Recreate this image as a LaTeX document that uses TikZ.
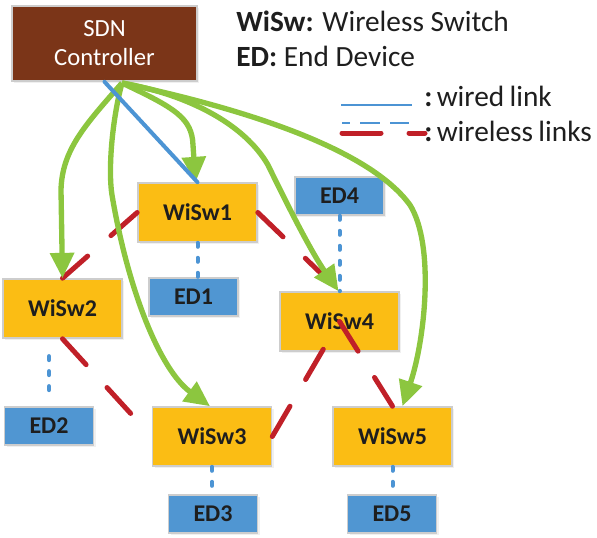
\documentclass[tikz,border=0pt]{standalone}
\usepackage{fontspec}
\setmainfont{Carlito}
\usetikzlibrary{arrows.meta,calc,shadows}
\definecolor{brownc}{RGB}{123,53,24}
\definecolor{swyel}{RGB}{251,189,20}
\definecolor{edblu}{RGB}{80,150,210}
\definecolor{txtdark}{RGB}{30,30,30}
\definecolor{greenc}{RGB}{140,198,63}
\definecolor{redc}{RGB}{192,32,40}
\definecolor{bluec}{RGB}{76,148,212}
\definecolor{bordgray}{RGB}{205,205,205}
\begin{document}
\begin{tikzpicture}[x=0.75pt,y=-0.75pt,
  box/.style={draw=bordgray, line width=1.2pt, inner sep=0pt,
    drop shadow={shadow xshift=1.5pt,shadow yshift=-1.5pt,opacity=0.12}},
  swbox/.style={box, fill=swyel, minimum width=89.25pt, minimum height=44.25pt,
    font=\fontsize{18}{21}\selectfont\bfseries, text=txtdark},
  edbox/.style={box, fill=edblu, minimum width=66.75pt, minimum height=28.5pt,
    font=\fontsize{18}{21}\selectfont\bfseries, text=txtdark},
  ctrlbox/.style={box, fill=brownc, minimum width=138.75pt, minimum height=56.25pt,
    font=\fontsize{18.5}{21.75}\selectfont, text=white, align=center},
  wl/.style={draw=redc, line width=3.75pt, line cap=round, dash pattern=on 26.25pt off 23.25pt},
  dl/.style={draw=bluec, line width=3pt, line cap=round, dash pattern=on 3pt off 8.25pt},
  ctrl/.style={draw=greenc, line width=4pt, -{Triangle[length=19pt,width=17.5pt]}},
  wired/.style={draw=bluec, line width=3pt, line cap=round},
  legtext/.style={anchor=base west, inner sep=0pt, font=\fontsize{22}{26}\selectfont, text=txtdark}
]
\useasboundingbox (0,0) rectangle (597,537);

% nodes
\node[ctrlbox] (SDN) at (104.5,43.5) {SDN\\Controller};
\node[swbox] (WiSw1) at (197.5,212.5) {WiSw1};
\node[swbox] (WiSw2) at (62.5,308.5) {WiSw2};
\node[swbox] (WiSw3) at (212,436.5) {WiSw3};
\node[swbox] (WiSw4) at (339.5,321.5) {WiSw4};
\node[swbox] (WiSw5) at (392.5,436.5) {WiSw5};
\node[edbox] (ED1) at (193.5,297) {ED1};
\node[edbox] (ED2) at (49,426) {ED2};
\node[edbox] (ED3) at (213,514) {ED3};
\node[edbox] (ED4) at (339.5,196) {ED4};
\node[edbox] (ED5) at (392,514) {ED5};

% legend
\node[legtext] (lg1) at (236,31) {\textbf{WiSw:} Wireless Switch};
\node[legtext] (lg2) at (236,66) {\textbf{ED:} End Device};
\node[legtext] (lg3) at (424,106) {\textbf{:}\hspace{0.15em}wired\hspace{0.18em}link};
\node[legtext] (lg4) at (424,141) {\textbf{:}\hspace{0.15em}wireless\hspace{0.18em}links};
\draw[draw=bluec, line width=1.5pt] (341,105) -- (412,105);
\draw[draw=bluec, line width=1.5pt] (342,123) -- (350,123) (360,123) -- (380,123) (390,123) -- (409,123);
\draw[draw=redc, line width=3.75pt, line cap=round] (342,133) -- (381,133) (409,133) -- (425,133);

% wireless links
\draw[wl] (WiSw1.west) -- (WiSw2.north);
\draw[wl] (WiSw1.east) -- (WiSw4.north);
\draw[wl, shorten >=4pt] (WiSw2.south) -- (WiSw3.west);
\draw[wl, shorten >=4pt] (WiSw3.east) -- (WiSw4.center);
\draw[wl] (WiSw4.center) -- (WiSw5.north);

% control arrows
\coordinate (gs) at (122,83);
\draw[ctrl] (gs) .. controls (175,108) and (192,118) .. (193,145) -- ($(WiSw1.north)+(-2,0)$);
\draw[ctrl] (gs) .. controls (85,125) and (62,150) .. (61,190) -- (WiSw2.north);
\draw[ctrl] (gs) .. controls (112,120) and (108,170) .. (112,195) .. controls (128,290) and (160,370) .. ($(WiSw3.north)+(-2,0)$);
\draw[ctrl] (gs) .. controls (190,95) and (245,125) .. (268,165) .. controls (285,200) and (310,250) .. ($(WiSw4.north)+(-1,0)$);
\draw[ctrl] (gs) .. controls (250,110) and (370,150) .. (410,205) .. controls (435,245) and (425,340) .. ($(WiSw5.north)+(10,0)$);

% wired link
\draw[wired] (SDN.south) -- (WiSw1.north);

% device links
\draw[dl] (WiSw1.south) -- (WiSw1.south |- ED1.north);
\draw[dl] (ED4.south) -- (WiSw4.north);
\draw[dl, shorten <=13pt, shorten >=7pt] (ED2.north |- WiSw2.south) -- (ED2.north);
\draw[dl] (WiSw3.south) -- (WiSw3.south |- ED3.north);
\draw[dl] (WiSw5.south) -- (WiSw5.south |- ED5.north);
\end{tikzpicture}
\end{document}
